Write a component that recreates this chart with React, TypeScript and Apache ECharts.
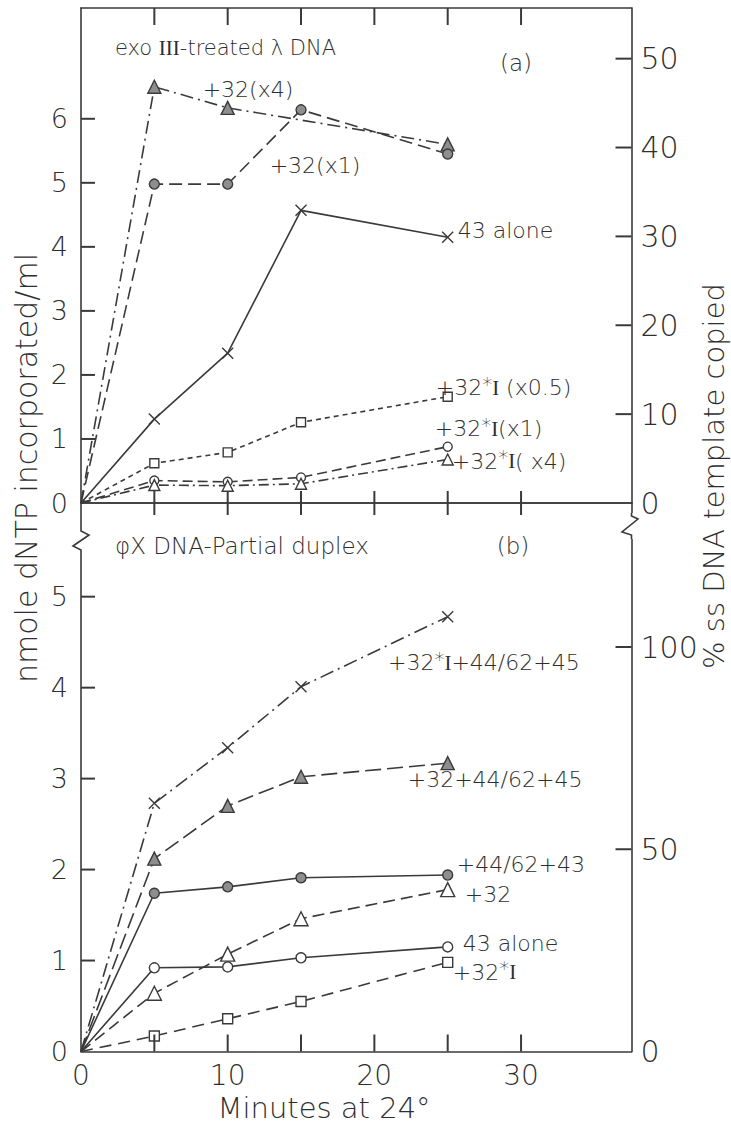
import { useEffect, useRef } from "react";
import * as echarts from "echarts";

// Sampling times (minutes at 24°)
const minutes = [0, 5, 10, 15, 25];

// (a) exo III-treated λ DNA — nmole dNTP incorporated/ml
const a32x4 = [0, 6.5, 6.17, null, 5.6];
const a32x1 = [0, 4.98, 4.98, 6.14, 5.45];
const a43alone = [0, 1.31, 2.34, 4.57, 4.15];
const a32Ix05 = [0, 0.62, 0.79, 1.26, 1.66];
const a32Ix1 = [0, 0.35, 0.33, 0.4, 0.88];
const a32Ix4 = [0, 0.28, 0.27, 0.3, 0.68];

// (b) φX DNA-partial duplex — nmole dNTP incorporated/ml
const b32I4462_45 = [0, 2.73, 3.34, 4.01, 4.78];
const b32_4462_45 = [0, 2.12, 2.7, 3.02, 3.17];
const b4462_43 = [0, 1.74, 1.81, 1.91, 1.94];
const b32 = [0, 0.64, 1.07, 1.46, 1.78];
const b43alone = [0, 0.92, 0.93, 1.03, 1.15];
const b32I = [0, 0.17, 0.36, 0.55, 0.98];

// Tick marks and tick labels
const minuteTicks = [5, 10, 15, 20, 25, 30];
const minuteLabels = [0, 10, 20, 30];
const nmoleTicksA = [1, 2, 3, 4, 5, 6];
const nmoleLabelsA = [0, 1, 2, 3, 4, 5, 6];
const percentTicksA = [10, 20, 30, 40, 50];
const percentLabelsA = [0, 10, 20, 30, 40, 50];
const nmoleTicksB = [1, 2, 3, 4, 5];
const nmoleLabelsB = [0, 1, 2, 3, 4, 5];
const percentTicksB = [50, 100];
const percentLabelsB = [0, 50, 100];

// Axis extents
const X_MAX = 37.53;
const NMOLE_MAX_A = 7.73;
const PERCENT_MAX_A = 55.7;
const NMOLE_MAX_B = 6.03;
const PERCENT_MAX_B = 135.6;

const INK = "#3a3a3a";
const TEXT = "#2e2e2e";
const FILL = "#8e8e8e";
const FONT = "'DejaVu Sans', sans-serif";
const SERIF = "'Liberation Serif', 'DejaVu Serif', serif";
const WEIGHT = 200;

const CROSS = "path://M0,0L10,10M10,0L0,10";

const rich = {
  s: { fontSize: 20, fontFamily: FONT, fontWeight: WEIGHT, color: TEXT, padding: [0, 0, 8, 0] },
  r: { fontSize: 21, fontFamily: SERIF, fontWeight: "normal", color: TEXT },
};

type Spec = {
  values: (number | null)[];
  panel: 0 | 1;
  symbol: string;
  size: number;
  fill: string;
  dash: number[] | "solid";
  text: string;
  at: number;
  dx: number;
  dy: number;
  align?: "left" | "right";
};

const specs: Spec[] = [
  { values: a32x4, panel: 0, symbol: "triangle", size: 13, fill: FILL, dash: [13, 5, 2, 5], text: "+32(x4)", at: 2, dx: -25, dy: -18 },
  { values: a32x1, panel: 0, symbol: "circle", size: 10, fill: FILL, dash: [13, 6], text: "+32(x1)", at: 2, dx: 42, dy: -19 },
  { values: a43alone, panel: 0, symbol: CROSS, size: 11, fill: "none", dash: "solid", text: "43 alone", at: 4, dx: 10, dy: -7 },
  { values: a32Ix05, panel: 0, symbol: "rect", size: 9, fill: "#fff", dash: [5, 4], text: "+32{s|*}{r|I} (x0.5)", at: 4, dx: -12, dy: -9 },
  { values: a32Ix1, panel: 0, symbol: "circle", size: 9, fill: "#fff", dash: [10, 5], text: "+32{s|*}{r|I}(x1)", at: 4, dx: -13, dy: -18 },
  { values: a32Ix4, panel: 0, symbol: "triangle", size: 11, fill: "#fff", dash: [10, 4, 2, 4], text: "+32{s|*}{r|I}( x4)", at: 4, dx: 4, dy: 2 },
  { values: b32I4462_45, panel: 1, symbol: CROSS, size: 11, fill: "none", dash: [14, 5, 2, 5], text: "+32{s|*}{r|I}+44/62+45", at: 4, dx: 132, dy: 46, align: "right" },
  { values: b32_4462_45, panel: 1, symbol: "triangle", size: 13, fill: FILL, dash: [16, 6], text: "+32+44/62+45", at: 4, dx: -40, dy: 16 },
  { values: b4462_43, panel: 1, symbol: "circle", size: 10, fill: FILL, dash: "solid", text: "+44/62+43", at: 4, dx: 9, dy: -11 },
  { values: b32, panel: 1, symbol: "triangle", size: 14, fill: "#fff", dash: [12, 6], text: "+32", at: 4, dx: 17, dy: 5 },
  { values: b43alone, panel: 1, symbol: "circle", size: 10, fill: "#fff", dash: "solid", text: "43 alone", at: 4, dx: 15, dy: -3 },
  { values: b32I, panel: 1, symbol: "rect", size: 10, fill: "#fff", dash: [12, 7], text: "+32{s|*}{r|I}", at: 4, dx: 5, dy: 10 },
];

const buildSeries = (sp: Spec) => ({
  type: "line",
  xAxisIndex: sp.panel === 0 ? 0 : 3,
  yAxisIndex: sp.panel === 0 ? 0 : 2,
  connectNulls: true,
  symbol: sp.symbol,
  symbolSize: sp.size,
  showAllSymbol: true,
  lineStyle: { color: INK, width: 1.6, type: sp.dash },
  itemStyle: { color: sp.fill, borderColor: INK, borderWidth: 1.4 },
  data: minutes
    .map((t, i) => ({ t, i, v: sp.values[i] }))
    .filter((d) => d.v !== null)
    .map((d) => {
      const item: any = { value: [d.t, d.v] };
      if (d.t === 0) item.symbol = "none";
      if (d.i === sp.at) {
        item.label = {
          show: true,
          position: "inside",
          align: sp.align ?? "left",
          verticalAlign: "middle",
          offset: [sp.dx, sp.dy],
          formatter: sp.text,
          fontFamily: FONT,
          fontWeight: WEIGHT,
          fontSize: 22,
          color: TEXT,
          rich,
        };
      }
      return item;
    }),
});

const axisLine = { show: true, onZero: false, lineStyle: { color: INK, width: 1.6 } };
const labelFont = { fontFamily: FONT, fontWeight: WEIGHT, color: TEXT };

const xAxisFor = (grid: number, position: string, labels: boolean) => ({
  type: "value",
  gridIndex: grid,
  position,
  min: 0,
  max: X_MAX,
  interval: 5,
  axisLine,
  axisTick: { show: false },
  axisLabel: labels
    ? { show: true, customValues: minuteLabels, fontSize: 28, margin: 10, ...labelFont }
    : { show: false },
  splitLine: { show: false },
});

const yAxisFor = (
  grid: number,
  position: string,
  max: number,
  interval: number,
  labels: number[],
  fontSize: number,
  margin: number
) => ({
  type: "value",
  gridIndex: grid,
  position,
  min: 0,
  max,
  interval,
  axisLine,
  axisTick: { show: false },
  axisLabel: { show: true, customValues: labels, fontSize, margin, ...labelFont },
  splitLine: { show: false },
});

const textEl = (text: string, x: number, y: number, size: number, extra: any = {}) => ({
  type: "text",
  x,
  y,
  z: 120,
  style: {
    text,
    fontSize: size,
    fontFamily: FONT,
    fontWeight: WEIGHT,
    fill: TEXT,
    align: "left",
    verticalAlign: "middle",
    rich: {
      r: { fontSize: size, fontFamily: SERIF, fontWeight: "normal", fill: TEXT },
    },
    ...extra,
  },
});

const baseGraphic: any[] = [
  textEl("exo {r|III}-treated λ DNA", 115, 48, 21),
  textEl("(a)", 516, 63, 23, { align: "center" }),
  textEl("φX DNA-Partial duplex", 115, 546, 23),
  textEl("(b)", 513, 546, 23, { align: "center" }),
  {
    ...textEl("nmole dNTP incorporated/ml", 26, 468, 30, { align: "center" }),
    rotation: Math.PI / 2,
  },
  {
    ...textEl("% ss DNA template copied", 714, 476, 29, { align: "center" }),
    rotation: Math.PI / 2,
  },
  textEl("Minutes at 24°", 324, 1108, 29, { align: "center" }),
  // axis breaks between the two panels
  { type: "rect", z: 110, shape: { x: 76, y: 526, width: 10, height: 27 }, style: { fill: "#fff" } },
  {
    type: "polyline",
    z: 111,
    shape: { points: [[81, 526], [81, 531], [89, 535], [73, 546], [81, 550], [81, 553]] },
    style: { stroke: INK, lineWidth: 1.6, fill: null },
  },
  { type: "rect", z: 110, shape: { x: 626, y: 513, width: 10, height: 26 }, style: { fill: "#fff" } },
  {
    type: "polyline",
    z: 111,
    shape: { points: [[631.5, 513], [631.5, 516], [638, 519], [622, 532], [631.5, 535], [631.5, 539]] },
    style: { stroke: INK, lineWidth: 1.6, fill: null },
  },
];

const option: any = {
  animation: false,
  backgroundColor: "#fff",
  grid: [
    { left: 81, top: 8, width: 550.5, height: 495 },
    { left: 81, top: 503, width: 550.5, height: 548.5 },
  ],
  xAxis: [
    xAxisFor(0, "bottom", false),
    xAxisFor(0, "top", false),
    xAxisFor(1, "top", false),
    xAxisFor(1, "bottom", true),
  ],
  yAxis: [
    yAxisFor(0, "left", NMOLE_MAX_A, 1, nmoleLabelsA, 27, 13),
    yAxisFor(0, "right", PERCENT_MAX_A, 10, percentLabelsA, 30, 9),
    yAxisFor(1, "left", NMOLE_MAX_B, 1, nmoleLabelsB, 27, 13),
    yAxisFor(1, "right", PERCENT_MAX_B, 50, percentLabelsB, 30, 9),
  ],
  series: specs.map(buildSeries),
  graphic: baseGraphic,
};

const tickLine = (x1: number, y1: number, x2: number, y2: number) => ({
  type: "line",
  z: 115,
  shape: { x1, y1, x2, y2 },
  style: { stroke: INK, lineWidth: 2 },
});

// Tick strokes on the frame edges, positioned through the axes' own scales.
const buildTicks = (chart: any) => {
  const px = (xi: number, v: number) => chart.convertToPixel({ xAxisIndex: xi }, v);
  const py = (yi: number, v: number) => chart.convertToPixel({ yAxisIndex: yi }, v);
  const ticks: any[] = [];
  const yA0 = py(0, 0);
  const yATop = py(0, NMOLE_MAX_A);
  const yB0 = py(2, 0);
  minuteTicks.forEach((t) => {
    const xa = px(0, t);
    const xb = px(3, t);
    ticks.push(tickLine(xa, yA0 - 12, xa, yA0 + 12));
    ticks.push(tickLine(xa, yATop, xa, yATop + 17));
    ticks.push(tickLine(xb, yB0, xb, yB0 - 17));
  });
  const xLeft = px(0, 0);
  const xRight = px(0, X_MAX);
  nmoleTicksA.forEach((v) => {
    const y = py(0, v);
    ticks.push(tickLine(xLeft, y, xLeft + 14, y));
  });
  nmoleTicksB.forEach((v) => {
    const y = py(2, v);
    ticks.push(tickLine(xLeft, y, xLeft + 14, y));
  });
  percentTicksA.forEach((v) => {
    const y = py(1, v);
    ticks.push(tickLine(xRight, y, xRight - 16, y));
  });
  percentTicksB.forEach((v) => {
    const y = py(3, v);
    ticks.push(tickLine(xRight, y, xRight - 16, y));
  });
  return ticks;
};

export default function App() {
  const ref = useRef<HTMLDivElement>(null);
  useEffect(() => {
    document.body.style.margin = "0";
    const chart = echarts.init(ref.current!, null, { renderer: "svg" });
    chart.setOption(option);
    chart.setOption({ graphic: [...baseGraphic, ...buildTicks(chart)] });
    return () => chart.dispose();
  }, []);
  return <div ref={ref} style={{ width: 731, height: 1128, background: "#fff" }} />;
}
